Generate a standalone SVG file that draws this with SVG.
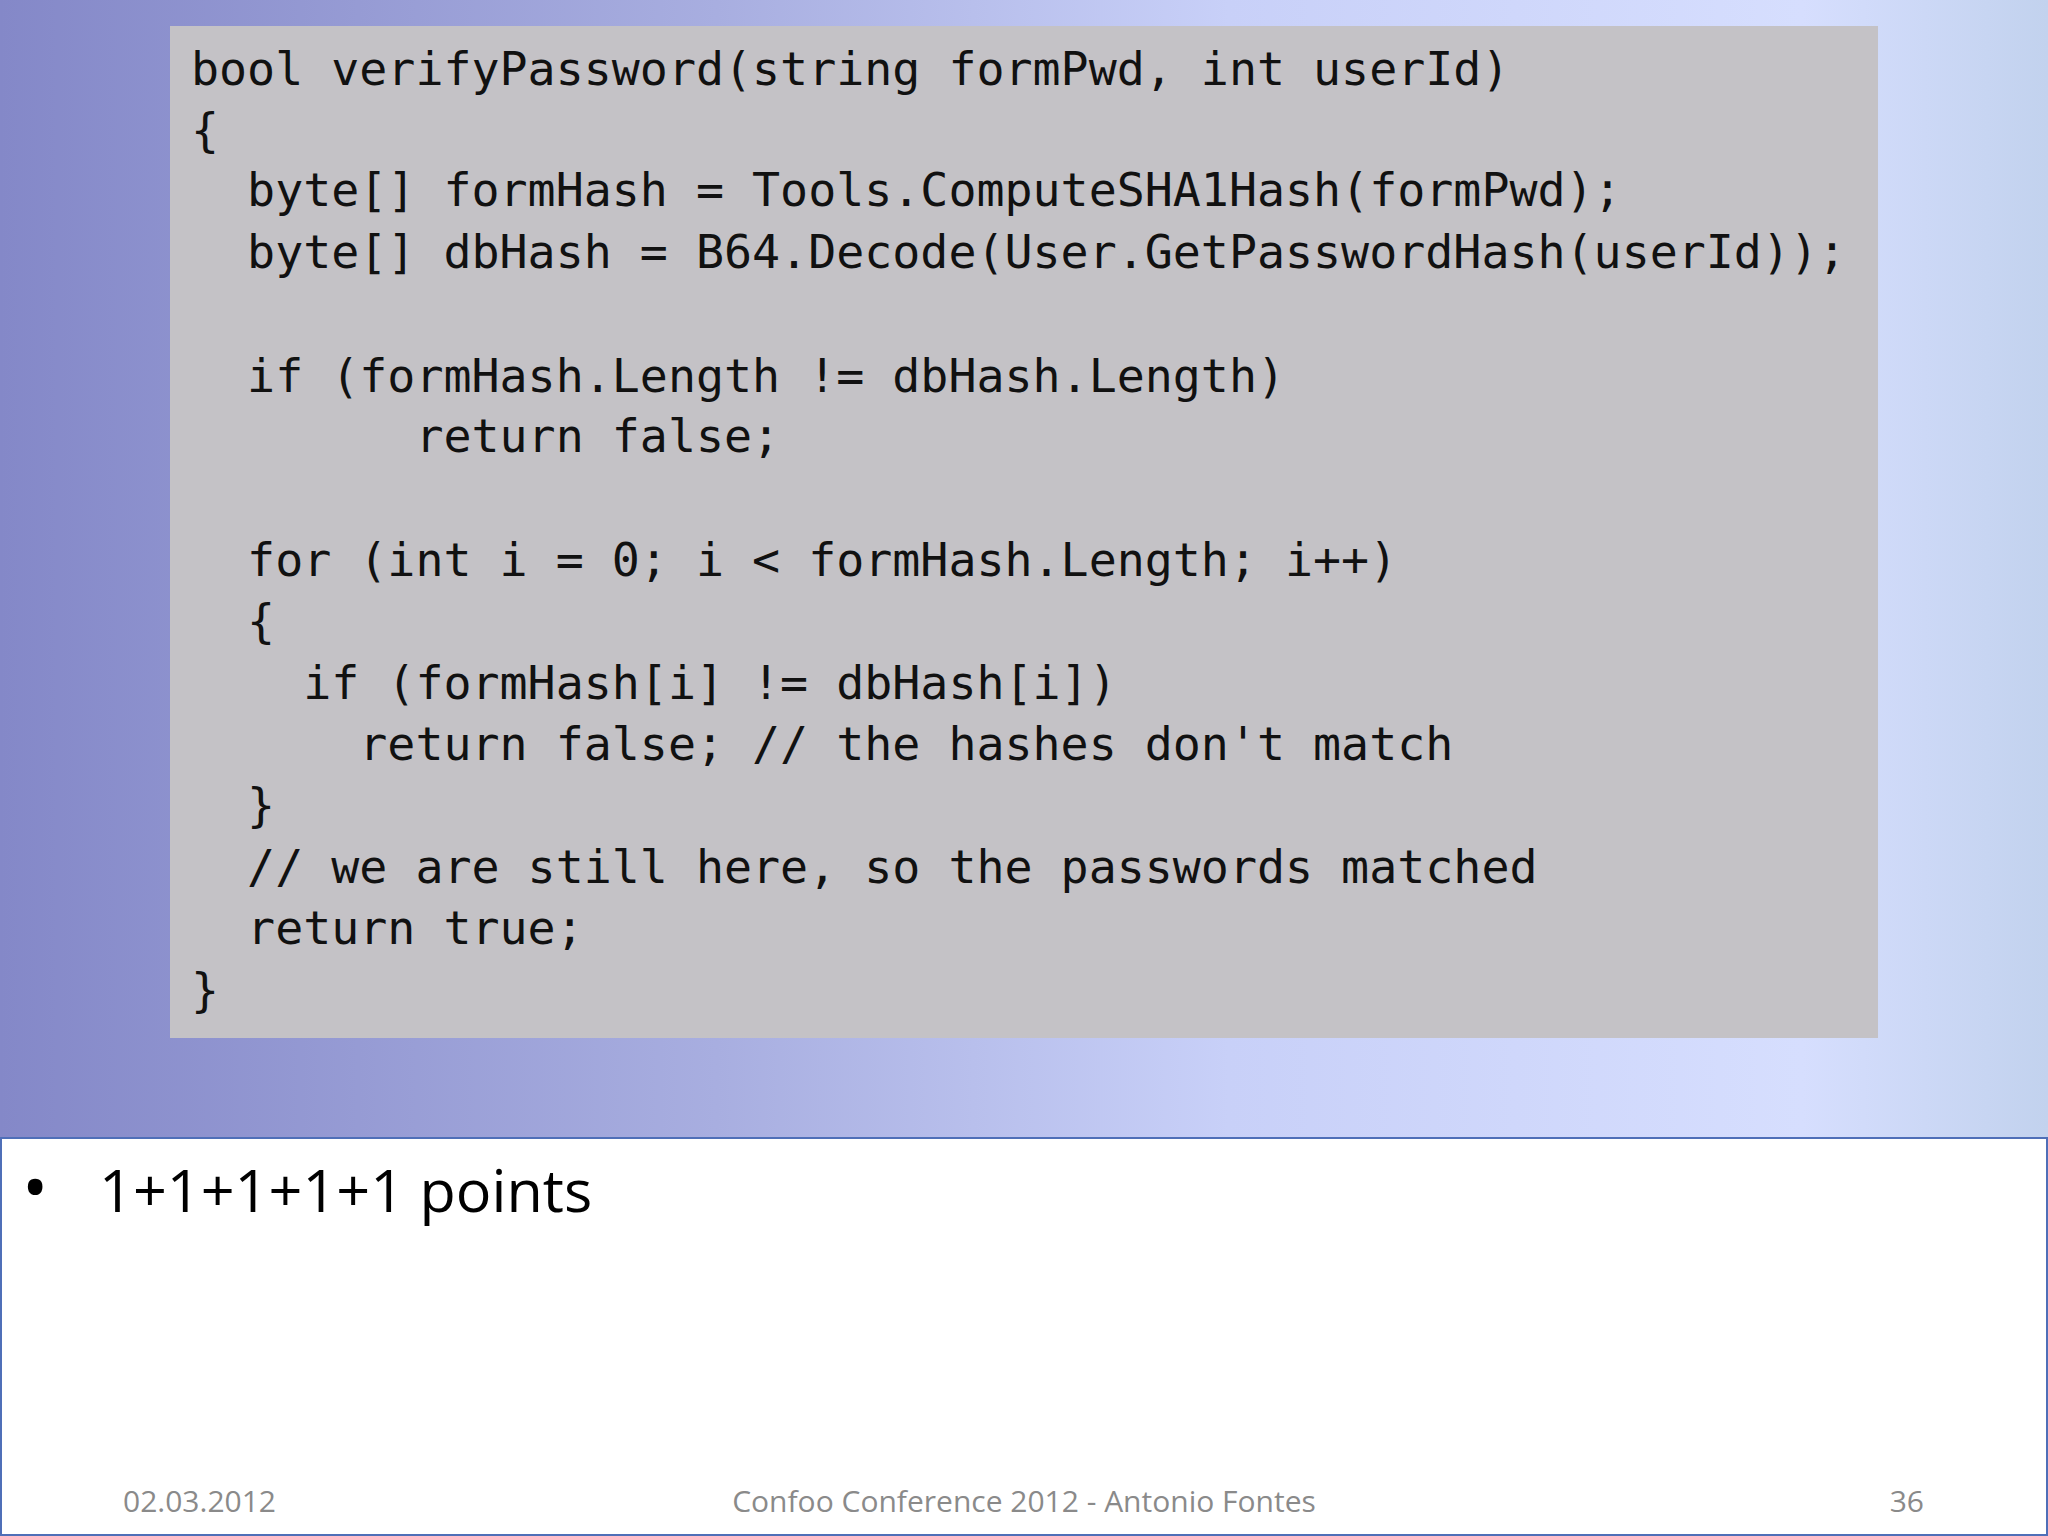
<svg xmlns="http://www.w3.org/2000/svg" width="2048" height="1536" viewBox="0 0 2048 1536">
<defs>
<linearGradient id="bg" x1="0" y1="0" x2="1" y2="0">
<stop offset="0" stop-color="#8488c8"/>
<stop offset="0.35" stop-color="#a8aee0"/>
<stop offset="0.6" stop-color="#c8d0f8"/>
<stop offset="0.88" stop-color="#d6defe"/>
<stop offset="1" stop-color="#c2d2ee"/>
</linearGradient>
<style>
.code{font-family:"DejaVu Sans Mono","Liberation Mono",monospace;font-size:46.6px;fill:#111}
.foot{font-family:"Open Sans","Liberation Sans",sans-serif;font-size:30px;fill:#8a8a8a}
</style>
</defs>
<rect x="0" y="0" width="2048" height="1138" fill="url(#bg)"/>
<rect x="0" y="1138" width="2048" height="398" fill="#fff"/>
<rect x="1" y="1138" width="2046" height="397" fill="none" stroke="#4f6fb8" stroke-width="2"/>
<g id="codebox">
<rect x="170" y="26" width="1708" height="1012" fill="#c4c2c6"/>
<text class="code" xml:space="preserve">
<tspan x="191" y="85">bool verifyPassword(string formPwd, int userId)</tspan>
<tspan x="191" y="146">{</tspan>
<tspan x="191" y="206">  byte[] formHash = Tools.ComputeSHA1Hash(formPwd);</tspan>
<tspan x="191" y="268">  byte[] dbHash = B64.Decode(User.GetPasswordHash(userId));</tspan>
<tspan x="191" y="392">  if (formHash.Length != dbHash.Length)</tspan>
<tspan x="191" y="452">        return false;</tspan>
<tspan x="191" y="576">  for (int i = 0; i &lt; formHash.Length; i++)</tspan>
<tspan x="191" y="637">  {</tspan>
<tspan x="191" y="699">    if (formHash[i] != dbHash[i])</tspan>
<tspan x="191" y="760">      return false; // the hashes don't match</tspan>
<tspan x="191" y="821">  }</tspan>
<tspan x="191" y="883">  // we are still here, so the passwords matched</tspan>
<tspan x="191" y="944">  return true;</tspan>
<tspan x="191" y="1006">}</tspan>
</text>
</g>
<g id="bullet">
<text x="22" y="1212" font-family="Open Sans,Liberation Sans,sans-serif" font-size="70" fill="#000">•</text>
<text x="99" y="1212" font-family="Open Sans,Liberation Sans,sans-serif" font-size="59.3" fill="#000">1+1+1+1+1 points</text>
</g>
<g id="footer">
<text class="foot" x="123" y="1512">02.03.2012</text>
<text class="foot" x="1024" y="1512" text-anchor="middle">Confoo Conference 2012 - Antonio Fontes</text>
<text class="foot" x="1924" y="1512" text-anchor="end">36</text>
</g>
</svg>
